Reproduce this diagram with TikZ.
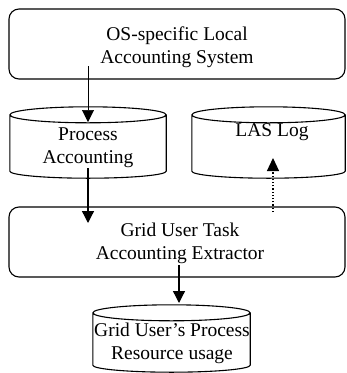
\documentclass[tikz,border=0pt]{standalone}
\usepackage{fontspec}
\setmainfont{Liberation Serif}
\usetikzlibrary{arrows.meta,calc}
\tikzset{
  rbox/.style={draw, line width=1.1pt, rounded corners=10pt, inner sep=0pt, align=center},
  geom/.style={inner sep=0pt, draw=none},
  txt/.style={inner sep=0pt, align=center, font=\fontsize{19.5}{23}\selectfont},
  flowthin/.style={line width=0.6pt, -{Triangle[length=12pt,width=12pt]}},
  flowthick/.style={line width=1.3pt, -{Triangle[length=12pt,width=12pt]}},
  flowdot/.style={line width=1.2pt, dotted, -{Triangle[length=13pt,width=12pt]}},
}
\newcommand{\drawcyl}[1]{%
  \draw[line width=1.1pt] let \p1=(#1.north west), \p2=(#1.south east), \n1={(\x2-\x1)/2} in
    (\x1,\y1-8pt) arc[start angle=180,end angle=360,x radius=\n1,y radius=8pt]
    arc[start angle=0,end angle=180,x radius=\n1,y radius=8pt]
    -- (\x1,\y2+7pt) arc[start angle=180,end angle=360,x radius=\n1,y radius=7pt]
    -- (\x2,\y1-8pt);}
\begin{document}
\begin{tikzpicture}[x=1pt,y=-1pt]
\useasboundingbox (0,0) rectangle (347,373);
% boxes
\node[rbox, minimum width=336pt, minimum height=70pt] (las) at (177,44) {};
\node[txt] (lastxt) at (177,47) {OS-specific Local\\Accounting System};
\node[rbox, minimum width=336pt, minimum height=70pt] (gut) at (177,242) {};
\node[txt] (guttxt) at (180,243) {Grid User Task\\Accounting Extractor};
% cylinders
\node[geom, minimum width=156pt, minimum height=71pt] (pa) at (88,142.5) {};
\drawcyl{pa}
\node[txt] (patxt) at (88,148) {Process\\Accounting};
\node[geom, minimum width=153pt, minimum height=71pt] (log) at (268.5,142.5) {};
\drawcyl{log}
\node[txt] (logtxt) at (272,132) {LAS Log};
\node[geom, minimum width=157pt, minimum height=67pt] (gup) at (171.5,338.5) {};
\drawcyl{gup}
\node[txt] (guptxt) at (172,343) {Grid User's Process\\Resource usage};
% connector endpoints
\coordinate (a1s) at (88,66);
\coordinate (a1e) at (88,122);
\coordinate (a2s) at (88,168);
\coordinate (a2e) at (88,223);
\coordinate (a3s) at (273,212);
\coordinate (a3e) at (273,158);
\coordinate (a4s) at (179,265);
\coordinate (a4e) at (179,303);
\draw[flowthin] (a1s) -- (a1e);
\draw[flowthick] (a2s) -- (a2e);
\draw[flowdot] (a3s) -- (a3e);
\draw[flowthick] (a4s) -- (a4e);
\end{tikzpicture}
\end{document}
